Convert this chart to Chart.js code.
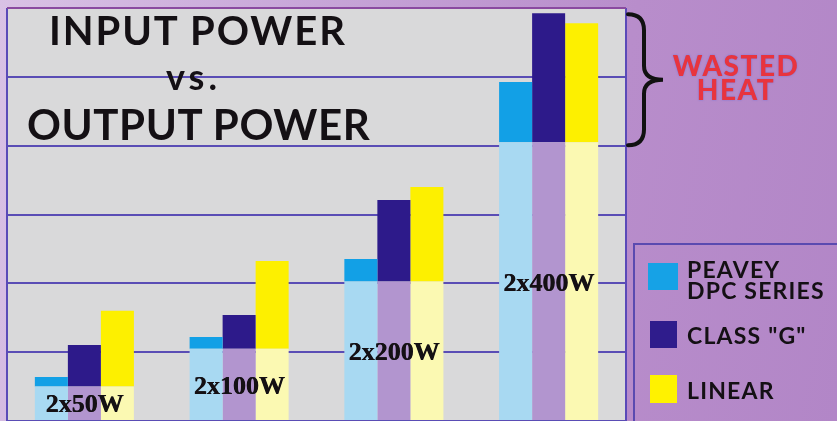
<!DOCTYPE html>
<html>
<head>
<meta charset="utf-8">
<script src="https://cdn.jsdelivr.net/npm/chart.js@4.4.1/dist/chart.umd.min.js"></script>
<style>
  html, body { margin: 0; padding: 0; }
  body {
    width: 837px; height: 421px; overflow: hidden; position: relative;
    background: linear-gradient(100deg, #d9c2e5 0%, #c7a5d8 35%, #b88dcb 70%, #b286c7 100%);
    font-family: Lato, "Open Sans", sans-serif;
  }
  #wrap { position: absolute; left: 0; top: 0; width: 837px; height: 421px; }
  .t { position: absolute; font-weight: bold; color: #141014; white-space: nowrap; }
  #t1 { left: 49px; top: 10px; font-size: 40px; line-height: 40px; letter-spacing: 1.9px; }
  #t2 { left: 166px; top: 58px; font-size: 36px; line-height: 36px; letter-spacing: 4px; }
  #t3 { left: 27px; top: 103px; font-size: 42px; line-height: 42px; letter-spacing: 0.6px; }
  #heat {
    position: absolute; left: 656px; top: 53px; width: 160px; text-align: center;
    font-size: 28px; line-height: 24px; font-weight: 900; color: #e8343e; letter-spacing: 1.5px;
    text-shadow: 0 0 2px rgba(70, 100, 230, 0.6);
  }
  #legend {
    position: absolute; left: 633px; top: 243px; width: 220px; height: 200px;
    border: 2px solid #5a4ab0; box-sizing: border-box;
  }
  .sw { position: absolute; }
  .lt { position: absolute; left: 687px; font-size: 23px; line-height: 21px; font-weight: bold; color: #141014; letter-spacing: 1.2px; }
</style>
</head>
<body>
<div id="wrap"><canvas id="grafico"></canvas></div>

<div class="t" id="t1">INPUT POWER</div>
<div class="t" id="t2">vs.</div>
<div class="t" id="t3">OUTPUT POWER</div>
<div id="heat">WASTED<br>HEAT</div>

<div id="legend"></div>
<div class="sw" style="left:648px; top:263px; width:30px; height:27px; background:#16a2e6;"></div>
<div class="lt" style="top:259px;">PEAVEY<br>DPC SERIES</div>
<div class="sw" style="left:650px; top:321px; width:27px; height:27px; background:#2f1c8c;"></div>
<div class="lt" style="top:325px;">CLASS "G"</div>
<div class="sw" style="left:650px; top:375px; width:27px; height:28px; background:#fff200;"></div>
<div class="lt" style="top:380px;">LINEAR</div>

<script>
    // amplifier ratings and watts (one gridline = 200 W)
    const categorias = ['2x50W', '2x100W', '2x200W', '2x400W'];
    const wattsPorCanal = [50, 100, 200, 400];
    const potenciaSaida = [100, 210, 405, 810];
    const calorPeavey = [28, 34, 66, 175];
    const calorClasseG = [121, 98, 237, 375];
    const calorLinear = [220, 255, 275, 346];
    const ticksY = [0, 200, 400, 600, 800, 1000, 1200];

    const fundoPlot = {
        id: 'fundoPlot',
        beforeDraw(chart) {
            const { ctx, chartArea: a } = chart;
            ctx.save();
            ctx.fillStyle = '#d9d9da';
            ctx.fillRect(a.left, a.top, a.right - a.left, a.bottom - a.top);
            ctx.restore();
        },
        beforeDatasetsDraw(chart) {
            const { ctx, chartArea: a } = chart;
            ctx.save();
            ctx.lineWidth = 2;
            ctx.strokeStyle = '#5a4ab8';
            ctx.beginPath();
            ctx.moveTo(a.left, a.bottom); ctx.lineTo(a.left, a.top);
            ctx.moveTo(a.right, a.top); ctx.lineTo(a.right, a.bottom);
            ctx.stroke();
            ctx.strokeStyle = '#8a4aa0';
            ctx.beginPath();
            ctx.moveTo(a.left, a.top); ctx.lineTo(a.right, a.top);
            ctx.stroke();
            ctx.restore();
        },
        afterDatasetsDraw(chart) {
            const { ctx, chartArea: a } = chart;
            const x = chart.scales.x, y = chart.scales.y;
            ctx.save();
            ctx.fillStyle = '#141014';
            ctx.font = 'bold 26px "Liberation Serif"';
            ctx.textAlign = 'center';
            ctx.textBaseline = 'middle';
            categorias.forEach((c, i) => {
                const px = x.getPixelForValue(i), py = y.getPixelForValue(wattsPorCanal[i]) + 1;
                ctx.fillText(c, px, py);
                ctx.fillText(c, px + 0.6, py);
            });

            // chave "}" marcando o calor desperdiçado do maior amplificador
            const ult = categorias.length - 1;
            const topo = y.getPixelForValue(potenciaSaida[ult] + calorClasseG[ult]) + 1;
            const base = y.getPixelForValue(potenciaSaida[ult]) + 3;
            const meio = (topo + base) / 2;
            const x0 = a.right + 2, x1 = a.right + 18, x2 = a.right + 37;
            ctx.strokeStyle = '#111';
            ctx.lineWidth = 4;
            ctx.lineCap = 'round';
            ctx.beginPath();
            ctx.moveTo(x0, topo);
            ctx.quadraticCurveTo(x1, topo, x1, topo + 16);
            ctx.lineTo(x1, meio - 14);
            ctx.quadraticCurveTo(x1, meio, x2, meio);
            ctx.quadraticCurveTo(x1, meio, x1, meio + 14);
            ctx.lineTo(x1, base - 16);
            ctx.quadraticCurveTo(x1, base, x0, base);
            ctx.stroke();
            ctx.restore();
        }
    };

    function conjunto(label, dados, cor, pilha) {
        return { label, data: dados, backgroundColor: cor, stack: pilha, borderWidth: 0 };
    }

    new Chart(document.getElementById('grafico'), {
        type: 'bar',
        data: {
            labels: categorias,
            datasets: [
                conjunto('PEAVEY DPC SERIES (output)', potenciaSaida, '#a8d9f2', 'peavey'),
                conjunto('PEAVEY DPC SERIES', calorPeavey, '#12a0e6', 'peavey'),
                conjunto('CLASS "G" (output)', potenciaSaida, '#b295cf', 'classeG'),
                conjunto('CLASS "G"', calorClasseG, '#2d1a8a', 'classeG'),
                conjunto('LINEAR (output)', potenciaSaida, '#fbf9b2', 'linear'),
                conjunto('LINEAR', calorLinear, '#fdf000', 'linear')
            ]
        },
        options: {
            responsive: true,
            maintainAspectRatio: false,
            animation: false,
            layout: { padding: { left: 7, top: 8, right: 211, bottom: 0 } },
            categoryPercentage: 0.64,
            barPercentage: 1.0,
            plugins: { legend: { display: false }, tooltip: { enabled: false } },
            scales: {
                x: { stacked: true, display: false },
                y: {
                    stacked: true,
                    min: ticksY[0],
                    max: ticksY[ticksY.length - 1],
                    afterBuildTicks: (s) => { s.ticks = ticksY.map(v => ({ value: v })); },
                    ticks: { display: false },
                    grid: { color: '#5a4db5', lineWidth: 2, drawTicks: false },
                    border: { display: false }
                }
            }
        },
        plugins: [fundoPlot]
    });
</script>
</body>
</html>
